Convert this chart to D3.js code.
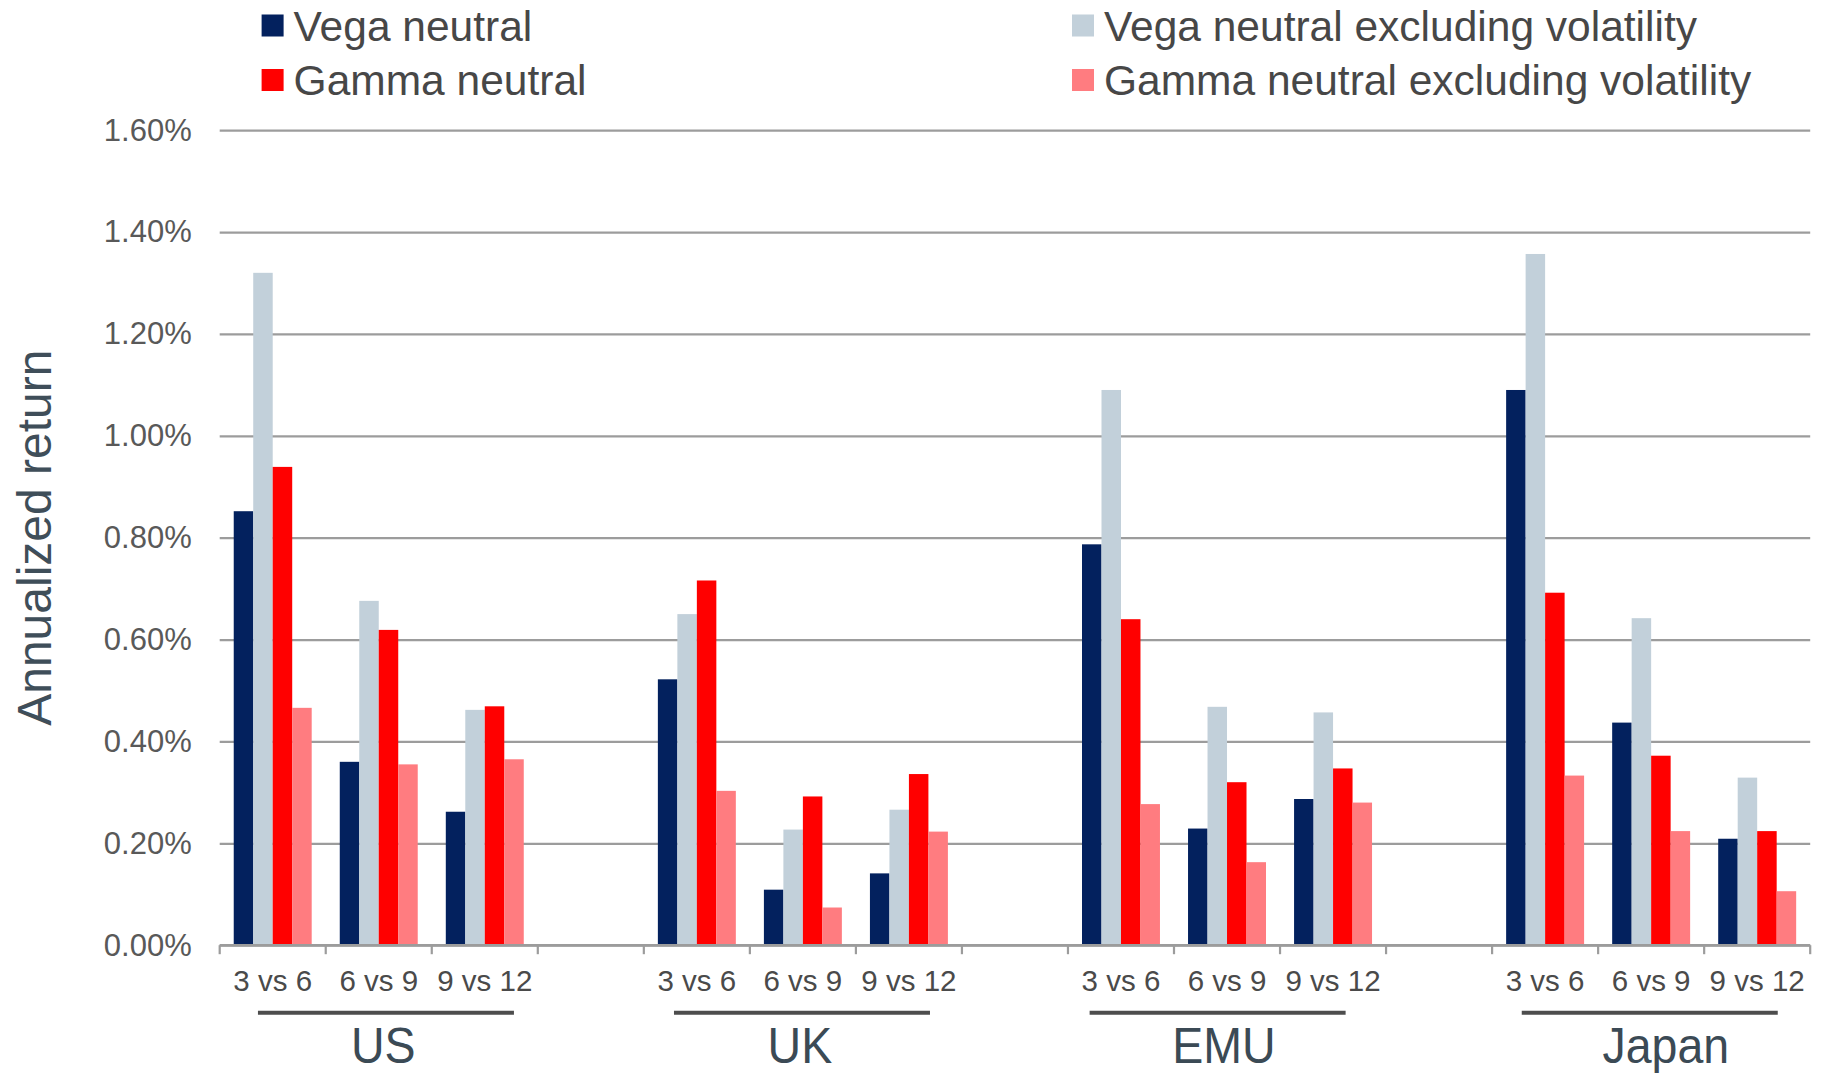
<!DOCTYPE html>
<html>
<head>
<meta charset="utf-8">
<script src="https://cdn.jsdelivr.net/npm/d3@7/dist/d3.min.js"></script>
<style>
  html, body { margin: 0; padding: 0; background: #ffffff; }
  svg { display: block; font-family: "Liberation Sans", Arial, sans-serif; }
</style>
</head>
<body>
<svg id="chart" width="1823" height="1073"></svg>
<script>
// Annualized returns (%) of term-structure trades, by market and maturity pair
const regions = ["US", "UK", "EMU", "Japan"];
const pairs = ["3 vs 6", "6 vs 9", "9 vs 12"];
const seriesNames = [
  "Vega neutral",
  "Vega neutral excluding volatility",
  "Gamma neutral",
  "Gamma neutral excluding volatility"
];
// values listed per region, in the order of `pairs`
const vegaNeutral = {
  US: [0.852, 0.360, 0.262], UK: [0.522, 0.109, 0.141],
  EMU: [0.787, 0.229, 0.287], Japan: [1.090, 0.437, 0.209]
};
const vegaNeutralExVol = {
  US: [1.320, 0.676, 0.462], UK: [0.650, 0.227, 0.266],
  EMU: [1.090, 0.468, 0.457], Japan: [1.357, 0.642, 0.329]
};
const gammaNeutral = {
  US: [0.939, 0.619, 0.469], UK: [0.716, 0.292, 0.336],
  EMU: [0.640, 0.320, 0.347], Japan: [0.692, 0.372, 0.224]
};
const gammaNeutralExVol = {
  US: [0.466, 0.355, 0.365], UK: [0.303, 0.074, 0.223],
  EMU: [0.277, 0.163, 0.280], Japan: [0.333, 0.224, 0.106]
};
const yTicks = [0, 0.2, 0.4, 0.6, 0.8, 1.0, 1.2, 1.4, 1.6];
const yTitle = "Annualized return";

const seriesData = [vegaNeutral, vegaNeutralExVol, gammaNeutral, gammaNeutralExVol];
const colors = ["#03215e", "#c2d0da", "#ff0000", "#ff7c80"];

// hand-placed nudges of the region captions and their underlines
const labelNudge = { US: 4.5, UK: -3, EMU: -3, Japan: 14.7 };
const lineNudge = { US: 7.2, UK: -0.9, EMU: -9.4, Japan: -1.4 };

// slots: three pairs per region, with an empty slot between regions
const slots = [];
regions.forEach((r, i) => {
  pairs.forEach(p => slots.push(r + "|" + p));
  if (i < regions.length - 1) slots.push("gap" + i);
});

const rows = [];
regions.forEach(r => pairs.forEach((p, j) => {
  seriesNames.forEach((s, k) => rows.push({
    slot: r + "|" + p, series: s, value: seriesData[k][r][j], color: colors[k]
  }));
}));

const svg = d3.select("#chart");
const plotLeft = 219.7, plotRight = 1810.2, plotTop = 130.2, plotBottom = 945.2;

const x0 = d3.scaleBand().domain(slots).range([plotLeft, plotRight]).padding(0);
const x1 = d3.scaleBand().domain(seriesNames).range([0, x0.bandwidth()])
  .paddingInner(0).paddingOuter(0.72);
const y = d3.scaleLinear().domain([0, 1.6]).range([plotBottom, plotTop]);

// gridlines and y tick labels
const yAxis = svg.append("g")
  .attr("transform", `translate(${plotLeft},0)`)
  .call(d3.axisLeft(y).tickValues(yTicks)
    .tickSize(-(plotRight - plotLeft)).tickPadding(28)
    .tickFormat(d => d3.format(".2f")(d) + "%"));
yAxis.select(".domain").remove();
yAxis.selectAll(".tick line").attr("stroke", "#9c9c9c").attr("stroke-width", 2.2);
yAxis.selectAll(".tick text")
  .attr("fill", "#595959").attr("font-size", 31)
  .attr("font-family", "'Liberation Sans', Arial, sans-serif");

// bars
svg.append("g").selectAll("rect").data(rows).join("rect")
  .attr("x", d => x0(d.slot) + x1(d.series))
  .attr("y", d => y(d.value))
  .attr("width", x1.bandwidth())
  .attr("height", d => y(0) - y(d.value))
  .attr("fill", d => d.color);

// category axis: baseline and slot-boundary ticks
const xAxis = svg.append("g");
xAxis.append("line")
  .attr("x1", plotLeft).attr("x2", plotRight)
  .attr("y1", y(0)).attr("y2", y(0))
  .attr("stroke", "#9c9c9c").attr("stroke-width", 2.4);
const bounds = slots.map(s => x0(s)).concat([plotRight]);
xAxis.selectAll("line.tk").data(bounds).join("line")
  .attr("class", "tk")
  .attr("x1", d => d).attr("x2", d => d)
  .attr("y1", y(0)).attr("y2", y(0) + 9)
  .attr("stroke", "#9c9c9c").attr("stroke-width", 2.2);

// maturity pair labels
svg.append("g").selectAll("text")
  .data(slots.filter(s => !s.startsWith("gap")))
  .join("text")
  .attr("x", d => x0(d) + x0.bandwidth() / 2)
  .attr("y", 991)
  .attr("text-anchor", "middle")
  .attr("font-size", 29.5)
  .attr("fill", "#4a4a4a")
  .text(d => d.split("|")[1]);

// region underline and label
const regionG = svg.append("g").selectAll("g").data(regions).join("g");
const regionCenter = r => {
  const a = x0(r + "|" + pairs[0]);
  const b = x0(r + "|" + pairs[pairs.length - 1]) + x0.bandwidth();
  return (a + b) / 2;
};
regionG.append("line")
  .attr("x1", r => regionCenter(r) + lineNudge[r] - 128)
  .attr("x2", r => regionCenter(r) + lineNudge[r] + 128)
  .attr("y1", 1012.7).attr("y2", 1012.7)
  .attr("stroke", "#4d4d4d").attr("stroke-width", 4);
regionG.append("text")
  .attr("transform", r => `translate(${regionCenter(r) + labelNudge[r]},1063.3) scale(1,1.06)`)
  .attr("text-anchor", "middle")
  .attr("font-size", 46.5)
  .attr("fill", "#3b4a55")
  .text(r => r);

// y axis title
svg.append("text")
  .attr("transform", `translate(51,${(plotTop + plotBottom) / 2}) rotate(-90)`)
  .attr("text-anchor", "middle")
  .attr("font-size", 48)
  .attr("fill", "#3f4e59")
  .text(yTitle);

// legend in two columns
const legendPos = [
  { x: 261.6, y: 14.5 }, { x: 1072, y: 14.5 },
  { x: 261.6, y: 69 }, { x: 1072, y: 69 }
];
const legendOrder = [0, 1, 2, 3];
const legend = svg.append("g").selectAll("g").data(legendOrder).join("g")
  .attr("transform", (k, i) => `translate(${legendPos[i].x},${legendPos[i].y})`);
legend.append("rect")
  .attr("width", 22).attr("height", 22)
  .attr("fill", k => colors[k]);
legend.append("text")
  .attr("x", 32).attr("y", 26)
  .attr("font-size", 42.5)
  .attr("fill", "#474747")
  .text(k => seriesNames[k]);
</script>
</body>
</html>
